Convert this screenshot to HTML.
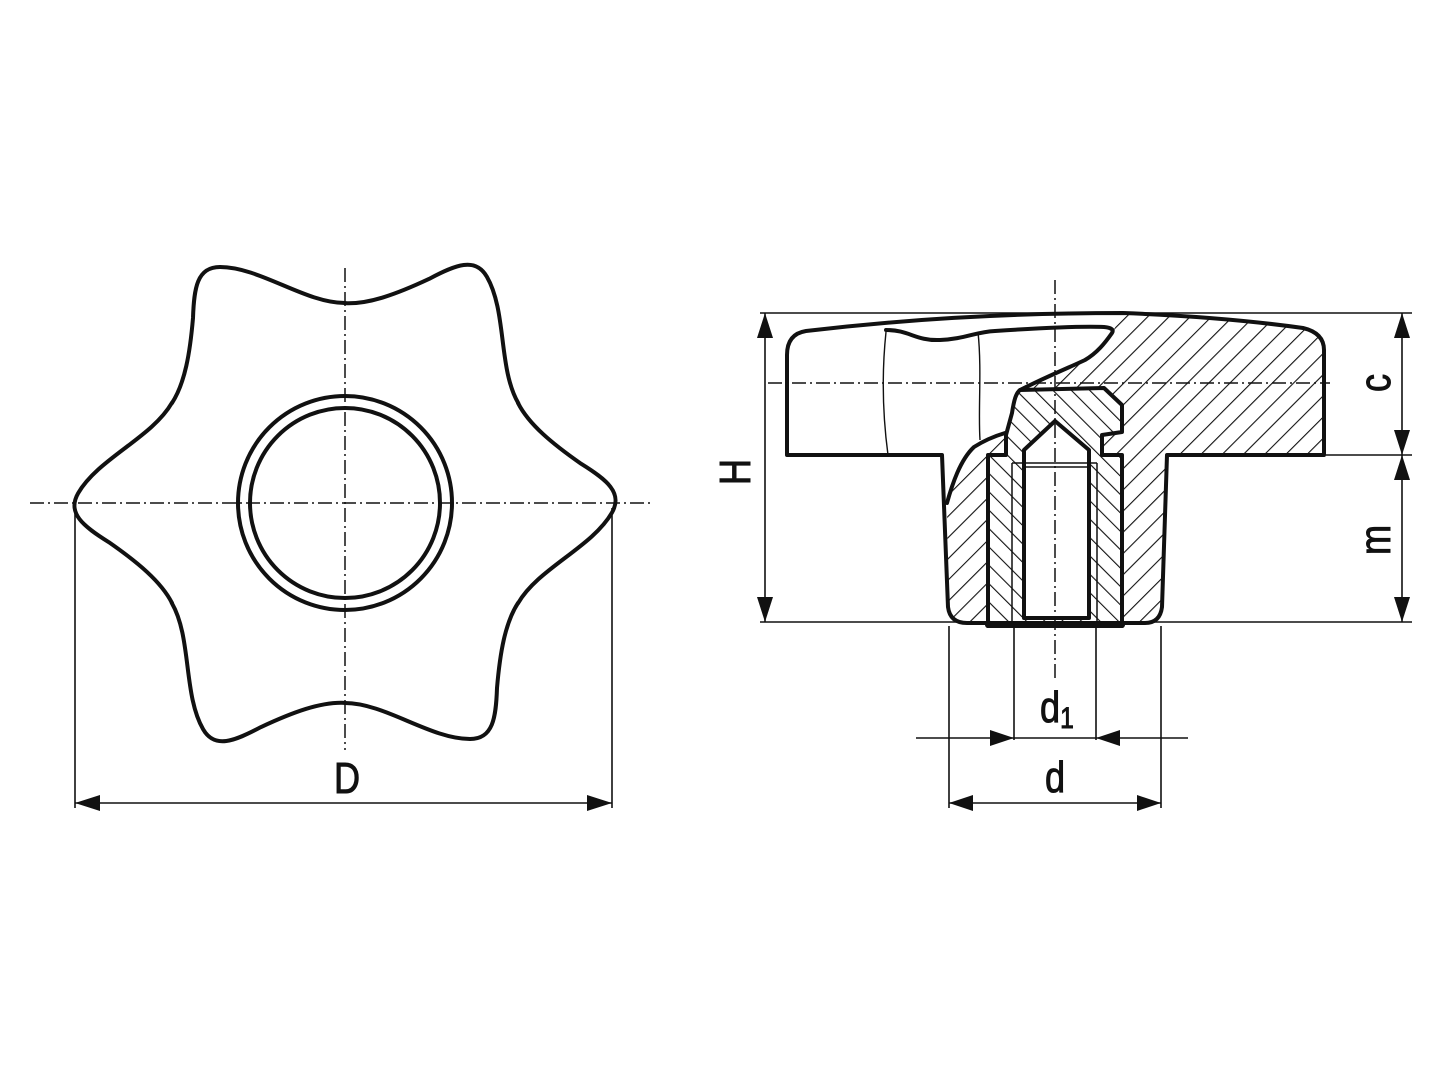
<!DOCTYPE html>
<html><head><meta charset="utf-8"><style>html,body{margin:0;padding:0;background:#fff}svg{display:block}</style></head>
<body>
<svg width="1440" height="1080" viewBox="0 0 1440 1080" xmlns="http://www.w3.org/2000/svg">
<defs>
<pattern id="hb" patternUnits="userSpaceOnUse" width="15" height="15" patternTransform="rotate(45)">
<line x1="0" y1="0" x2="0" y2="15" stroke="#111" stroke-width="2.2"/></pattern>
<pattern id="hi" patternUnits="userSpaceOnUse" width="13" height="13" patternTransform="rotate(-45)">
<line x1="0" y1="0" x2="0" y2="13" stroke="#111" stroke-width="2.2"/></pattern>
</defs>
<g fill="none" stroke="#111" font-family="Liberation Sans, sans-serif">
<!-- LEFT VIEW -->
<g transform="translate(345,503)" stroke-width="4" stroke-linecap="round">
<path id="seg" d="M0,-200 C-40,-200 -85,-236 -125,-236 C-148,-236 -151,-215 -152,-185 C-155,-150 -160,-120 -173,-100"/>
<use href="#seg" transform="rotate(-60)"/>
<use href="#seg" transform="rotate(-120)"/>
<use href="#seg" transform="rotate(-180)"/>
<use href="#seg" transform="rotate(-240)"/>
<use href="#seg" transform="rotate(-300)"/>
<circle r="107"/>
<circle r="95"/>
</g>
<g stroke-width="1.5" stroke-dasharray="14,4,2,4">
<line x1="30" y1="503" x2="650" y2="503"/>
<line x1="345" y1="268" x2="345" y2="750"/>
</g>
<g stroke-width="1.6">
<line x1="75" y1="508" x2="75" y2="808"/>
<line x1="612" y1="508" x2="612" y2="808"/>
<line x1="75" y1="803" x2="612" y2="803"/>
</g>
<g fill="#111" stroke="none">
<polygon points="75,803 100,795 100,811"/>
<polygon points="612,803 587,795 587,811"/>
</g>

<!-- RIGHT VIEW -->
<path d="M1123,313 C1200,316 1260,322 1303,328 Q1324,333 1324,350 V455 H1167 L1162,607 Q1160,623 1145,623 H967 Q950,623 948,607 L947,503 C952,485 956,465 974,447 C990,440 1000,437 1005,433 L1012,413 C1015,400 1017,393 1020,390 L1028,387 C1050,375 1075,365 1085,360 C1097,353 1105,343 1112,333 Z" fill="url(#hb)" stroke="none"/>
<path d="M1020,390 L1104,388 L1122,405 V432 L1102,435 V455 H1122 V626 H988 V455 H1006 V435 L1012,413 C1014,400 1016,393 1020,390 Z" fill="#fff" stroke="none"/>
<path d="M1020,390 L1104,388 L1122,405 V432 L1102,435 V455 H1122 V626 H988 V455 H1006 V435 L1012,413 C1014,400 1016,393 1020,390 Z" fill="url(#hi)" stroke="#111" stroke-width="4" stroke-linejoin="round"/>
<path d="M1024,618 V450 L1055,421 L1089,450 V618 Z" fill="#fff" stroke="#111" stroke-width="4" stroke-linejoin="round"/>
<g stroke-width="1.5">
<line x1="1012" y1="463" x2="1012" y2="622"/>
<line x1="1097" y1="463" x2="1097" y2="622"/>
<line x1="1012" y1="463" x2="1097" y2="463"/>
<line x1="1024" y1="467" x2="1089" y2="467"/>
</g>
<g stroke-width="4" stroke-linejoin="round" stroke-linecap="round">
<path d="M787,455 V355 Q787,334 806,331 C900,320 1000,313 1123,313 C1200,316 1260,322 1303,328 Q1324,333 1324,350 V455 H1167 L1162,607 Q1160,623 1145,623 H967 Q950,623 948,607 L942,455 Z"/>
<path d="M886,330 C910,330 915,341 940,340 C965,339 975,332 995,331 C1040,328 1080,326 1104,327 Q1115,328 1112,333 C1105,343 1097,353 1085,360 C1075,365 1050,375 1020,390"/>
<path d="M1005,433 C995,436 985,440 974,447 C960,460 952,485 947,503"/>
<line x1="988" y1="625" x2="1122" y2="625" stroke-width="6"/>
</g>
<g stroke-width="1.4">
<path d="M886,332 C882,370 882,410 888,455"/>
<path d="M978,332 C982,370 978,410 980,440"/>
</g>
<g stroke-width="1.5" stroke-dasharray="14,4,2,4">
<line x1="1055" y1="280" x2="1055" y2="680"/>
<line x1="768" y1="383" x2="1330" y2="383"/>
</g>
<g stroke-width="1.6">
<line x1="760" y1="313" x2="1412" y2="313"/>
<line x1="760" y1="622" x2="1412" y2="622"/>
<line x1="1326" y1="455" x2="1412" y2="455"/>
<line x1="765" y1="313" x2="765" y2="622"/>
<line x1="1402" y1="313" x2="1402" y2="622"/>
<line x1="949" y1="626" x2="949" y2="808"/>
<line x1="1161" y1="626" x2="1161" y2="808"/>
<line x1="1014" y1="626" x2="1014" y2="740"/>
<line x1="1096" y1="626" x2="1096" y2="740"/>
<line x1="916" y1="738" x2="1188" y2="738"/>
<line x1="949" y1="803" x2="1161" y2="803"/>
</g>
<g fill="#111" stroke="none">
<polygon points="765,313 757,338 773,338"/>
<polygon points="765,622 757,597 773,597"/>
<polygon points="1402,313 1394,338 1410,338"/>
<polygon points="1402,455 1394,430 1410,430"/>
<polygon points="1402,455 1394,480 1410,480"/>
<polygon points="1402,622 1394,597 1410,597"/>
<polygon points="1014,738 990,730 990,746"/>
<polygon points="1096,738 1120,730 1120,746"/>
<polygon points="949,803 973,795 973,811"/>
<polygon points="1161,803 1137,795 1137,811"/>
</g>
<g fill="#111" stroke="#111" stroke-width="1" font-size="44">
<text transform="translate(347,793) scale(0.82,1)" text-anchor="middle">D</text>
<text transform="translate(1055,792) scale(0.82,1)" text-anchor="middle">d</text>
<text transform="translate(1050,722) scale(0.82,1)" text-anchor="middle">d</text>
<text transform="translate(1067,728) scale(0.82,1)" text-anchor="middle" font-size="30">1</text>
<text transform="translate(750,472) rotate(-90) scale(0.82,1)" text-anchor="middle">H</text>
<text transform="translate(1390,383) rotate(-90) scale(0.82,1)" text-anchor="middle">c</text>
<text transform="translate(1390,540) rotate(-90) scale(0.82,1)" text-anchor="middle">m</text>
</g>
</g>
</svg>
</body></html>
